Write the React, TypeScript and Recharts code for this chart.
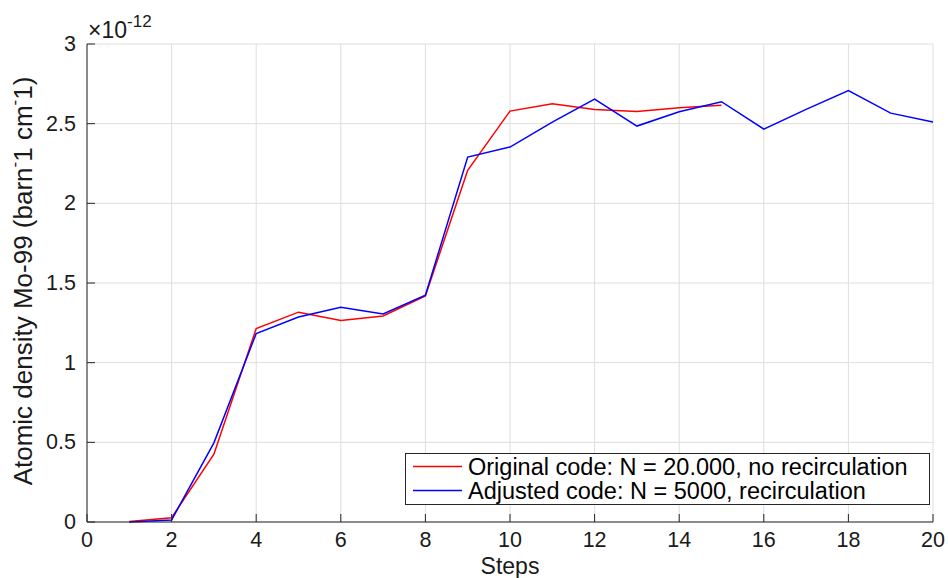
import React from 'react';
import { LineChart, Line, XAxis, YAxis, CartesianGrid, Legend, Label } from 'recharts';

// Steps of the burn-up calculation
const steps = [1, 2, 3, 4, 5, 6, 7, 8, 9, 10, 11, 12, 13, 14, 15, 16, 17, 18, 19, 20];

// Atomic density of Mo-99, in units of 1e-12 barn^-1 cm^-1
const originalCode = [0.003, 0.027, 0.426, 1.214, 1.317, 1.264, 1.293, 1.419, 2.207, 2.579, 2.625, 2.589, 2.577, 2.6, 2.616];
const adjustedCode = [0.0, 0.013, 0.497, 1.183, 1.287, 1.348, 1.306, 1.423, 2.29, 2.353, 2.51, 2.654, 2.485, 2.575, 2.638, 2.466, 2.59, 2.707, 2.566, 2.51];

const seriesNames = ['Original code: N = 20.000, no recirculation', 'Adjusted code: N = 5000, recirculation'];

const xTicks = [0, 2, 4, 6, 8, 10, 12, 14, 16, 18, 20];
const yTicks = [0, 0.5, 1, 1.5, 2, 2.5, 3];
const yTickLabels = ['0', '0.5', '1', '1.5', '2', '2.5', '3'];

const rows = steps.map((s, i) => ({
  step: s,
  original: i < originalCode.length ? originalCode[i] : undefined,
  adjusted: adjustedCode[i],
}));

const FONT = '"Liberation Sans", Arial, Helvetica, sans-serif';
const INK = '#262626';
const TICK_LEN = 8;

const XTick = (props: any) => {
  const { x, y, payload } = props;
  return (
    <g>
      <line x1={x} y1={y} x2={x} y2={y - TICK_LEN} stroke={INK} strokeWidth={1} />
      <text x={x} y={y + 18} textAnchor="middle" dominantBaseline="central" fontFamily={FONT} fontSize={21.5} fill="#1a1a1a">
        {payload.value}
      </text>
    </g>
  );
};

const YTick = (props: any) => {
  const { x, y, payload } = props;
  const idx = yTicks.indexOf(payload.value);
  return (
    <g>
      <line x1={x} y1={y} x2={x + TICK_LEN} y2={y} stroke={INK} strokeWidth={1} />
      <text x={x - 11} y={y} textAnchor="end" dominantBaseline="central" fontFamily={FONT} fontSize={21.5} fill="#1a1a1a">
        {idx >= 0 ? yTickLabels[idx] : payload.value}
      </text>
    </g>
  );
};

const YTitle = (props: any) => {
  const vb = props.viewBox || { x: 0, y: 44, width: 87, height: 478 };
  const cx = vb.x + 23;
  const cy = vb.y + vb.height / 2 - 2;
  return (
    <text
      x={cx}
      y={cy}
      transform={`rotate(-90, ${cx}, ${cy})`}
      textAnchor="middle"
      dominantBaseline="central"
      fontFamily={FONT}
      fontSize={26}
      fill="#1a1a1a"
    >
      Atomic density Mo-99 (barn
      <tspan dy={-9} fontSize={17}>-</tspan>
      <tspan dy={9}>1 cm</tspan>
      <tspan dy={-9} fontSize={17}>-</tspan>
      <tspan dy={9}>1)</tspan>
    </text>
  );
};

const Exponent = (props: any) => {
  const vb = props.viewBox || { x: 0, y: 44, width: 87, height: 478 };
  const x0 = vb.x + vb.width + 1;
  const y0 = vb.y - 6;
  return (
    <text x={x0} y={y0} fontFamily={FONT} fontSize={23} fill="#1a1a1a">
      ×10
      <tspan dy={-11} fontSize={17}>-12</tspan>
    </text>
  );
};

const XTitle = (props: any) => {
  const vb = props.viewBox || { x: 87, y: 522, width: 846, height: 56 };
  return (
    <text x={vb.x + vb.width / 2} y={vb.y + 44} textAnchor="middle" dominantBaseline="central" fontFamily={FONT} fontSize={23} fill="#1a1a1a">
      Steps
    </text>
  );
};

const LegendBox = (props: any) => {
  const payload = [...(props.payload || [])].sort(
    (a: any, b: any) => seriesNames.indexOf(a.value) - seriesNames.indexOf(b.value)
  );
  return (
    <svg width={525} height={52} style={{ display: 'block' }}>
      <rect x={0.5} y={0.5} width={524} height={51} fill="#ffffff" stroke={INK} strokeWidth={1} />
      {payload.map((item: any, i: number) => {
        const cy = 13.5 + i * 24;
        return (
          <g key={i}>
            <line x1={8} y1={cy} x2={57} y2={cy} stroke={item.color} strokeWidth={1.5} />
            <text x={63} y={cy} dominantBaseline="central" fontFamily={FONT} fontSize={23.5} fill="#000">
              {item.value}
            </text>
          </g>
        );
      })}
    </svg>
  );
};

export default function App() {
  return (
    <div style={{ position: 'absolute', left: 0, top: 0, width: 948, height: 578, background: '#fff' }}>
      <LineChart width={948} height={578} data={rows} margin={{ top: 44, right: 15, bottom: 0, left: 0 }}>
        <CartesianGrid stroke="#dedede" strokeWidth={1} />
        <XAxis
          dataKey="step"
          type="number"
          domain={[0, 20]}
          ticks={xTicks}
          interval={0}
          height={56}
          axisLine={{ stroke: INK, strokeWidth: 1 }}
          tickLine={false}
          tickSize={0}
          tickMargin={0}
          tick={(p: any) => <XTick {...p} />}
        >
          <Label content={(p: any) => <XTitle {...p} />} />
        </XAxis>
        <YAxis
          type="number"
          domain={[0, 3]}
          ticks={yTicks}
          interval={0}
          width={87}
          axisLine={{ stroke: INK, strokeWidth: 1 }}
          tickLine={false}
          tickSize={0}
          tickMargin={0}
          tick={(p: any) => <YTick {...p} />}
        >
          <Label content={(p: any) => <YTitle {...p} />} />
          <Label content={(p: any) => <Exponent {...p} />} />
        </YAxis>
        <Legend
          layout="vertical"
          align="center"
          verticalAlign="middle"
          wrapperStyle={{ left: 405, top: 453, width: 525, height: 52 }}
          content={(p: any) => <LegendBox {...p} />}
        />
        <Line
          type="linear"
          dataKey="original"
          name={seriesNames[0]}
          stroke="#ff0000"
          strokeWidth={1.5}
          dot={false}
          activeDot={false}
          connectNulls={false}
          isAnimationActive={false}
        />
        <Line
          type="linear"
          dataKey="adjusted"
          name={seriesNames[1]}
          stroke="#0000ff"
          strokeWidth={1.5}
          dot={false}
          activeDot={false}
          isAnimationActive={false}
        />
      </LineChart>
    </div>
  );
}
